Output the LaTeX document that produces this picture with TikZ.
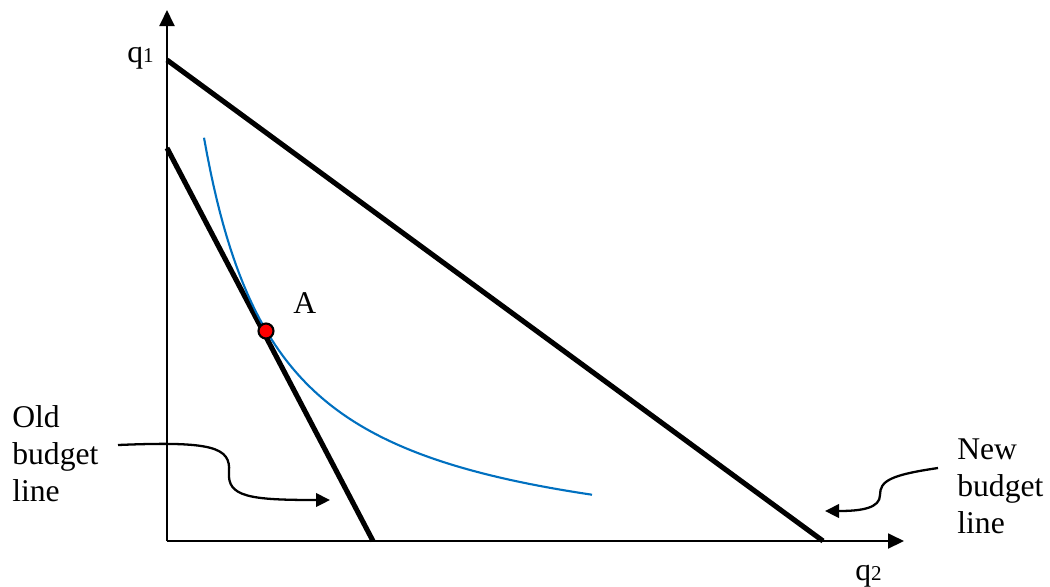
\documentclass[tikz,border=0pt]{standalone}
\usepackage{fontspec}
\setmainfont{Liberation Serif}
\usetikzlibrary{arrows.meta}
\definecolor{curveblue}{RGB}{0,112,192}
\begin{document}
\begin{tikzpicture}[x=0.02cm,y=-0.02cm,
  axisline/.style={line width=1.1pt,-{Triangle[length=0.32cm,width=0.3cm]}},
  budget/.style={line width=2.9pt},
  pointer/.style={line width=1.3pt,-{Triangle[length=0.28cm,width=0.27cm]}},
  lbl/.style={font=\fontsize{18}{21}\selectfont,inner sep=0pt,align=left},
  indiff/.style={curveblue,line width=1.2pt}]
\useasboundingbox (0,0) rectangle (1050,586);
% axes
\coordinate (O) at (167,541);
\coordinate (ytip) at (167,10);
\coordinate (xtip) at (904,541);
\draw[axisline] (O) -- (ytip);
\draw[axisline] (O) -- (xtip);
% budget lines
\coordinate (n1) at (167,60);
\coordinate (n2) at (823,541);
\coordinate (o1) at (167,148);
\coordinate (o2) at (373,541);
\draw[budget] (n1) -- (n2);
\draw[budget] (o1) -- (o2);
% indifference curve
\draw[indiff] plot[domain=204:592,samples=120] (\x,{563.9-3205/((\x-128.8)/10)});
% point A
\node[circle,draw=black,fill=red,line width=1.2pt,minimum size=0.3cm,inner sep=0pt] (A) at (266,331) {};
\node[lbl,anchor=base west] (Alab) at (293,313) {A};
% axis labels
\node[lbl,anchor=base west] (q1) at (127,62) {q{\fontsize{12}{12}\selectfont 1}};
\node[lbl,anchor=base west] (q2) at (855,580) {q{\fontsize{12}{12}\selectfont 2}};
% text labels
\node[lbl,anchor=base west] (old) at (12,501) {Old\\budget\\line};
\node[lbl,anchor=base west] (new) at (957,533) {New\\budget\\line};
% pointers
\coordinate (os) at (118,445);
\coordinate (oe) at (330,500);
\draw[pointer] (os) .. controls (212,441) and (231,447) .. (229,472)
  .. controls (227,497) and (250,500) .. (oe);
\coordinate (ns) at (938,468);
\coordinate (ne) at (825,511);
\draw[pointer] (ns) .. controls (890,475) and (880,481) .. (880,495)
  .. controls (880,508) and (862,511) .. (ne);
\end{tikzpicture}
\end{document}
